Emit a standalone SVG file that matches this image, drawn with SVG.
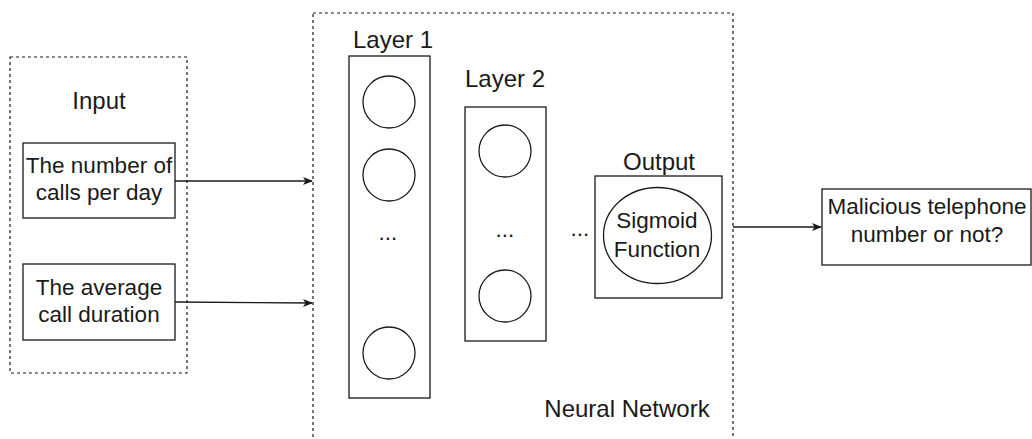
<svg xmlns="http://www.w3.org/2000/svg" width="1032" height="439" viewBox="0 0 1032 439">
<defs>
<style>
.box{fill:#fff;stroke:#1a1a1a;stroke-width:1.3}
.dash{fill:none;stroke:#1a1a1a;stroke-width:1.2;stroke-dasharray:3 3}
.node{fill:#fff;stroke:#1a1a1a;stroke-width:1.3}
.lbl{font-family:"Liberation Sans",Arial,sans-serif;font-size:24px;fill:#1a1a1a;text-anchor:middle}
.txt{font-family:"Liberation Sans",Arial,sans-serif;font-size:22.5px;fill:#1a1a1a;text-anchor:middle}
.edge{fill:none;stroke:#1a1a1a;stroke-width:1.3}
</style>
<marker id="arr" markerWidth="10" markerHeight="10" refX="9" refY="5" orient="auto" markerUnits="userSpaceOnUse">
<path d="M0,1 L10,5 L0,9 L2.5,5 Z" fill="#1a1a1a"/>
</marker>
</defs>
<rect width="1032" height="439" fill="#fff"/>
<g id="input-group">
<rect class="dash" x="10" y="57" width="177" height="316"/>
<text class="lbl" x="99" y="109">Input</text>
</g>
<g id="calls-per-day">
<rect class="box" x="23" y="143" width="152" height="75"/>
<text class="txt" x="99" y="173">The number of</text>
<text class="txt" x="99" y="200">calls per day</text>
</g>
<g id="call-duration">
<rect class="box" x="23" y="264" width="152" height="76"/>
<text class="txt" x="99" y="295">The average</text>
<text class="txt" x="99" y="322">call duration</text>
</g>
<g id="neural-network">
<rect class="dash" x="313" y="13" width="420" height="440"/>
<text class="lbl" x="627" y="417">Neural Network</text>
</g>
<g id="layer1">
<text class="lbl" x="393" y="48">Layer 1</text>
<rect class="box" x="349" y="56" width="81" height="342"/>
<circle class="node" cx="389" cy="102" r="26"/>
<circle class="node" cx="389" cy="175" r="26"/>
<text class="txt" x="388" y="240">...</text>
<circle class="node" cx="389" cy="353" r="26"/>
</g>
<g id="layer2">
<text class="lbl" x="505" y="87">Layer 2</text>
<rect class="box" x="465" y="107" width="81" height="234"/>
<circle class="node" cx="505" cy="151" r="26"/>
<text class="txt" x="505" y="237">...</text>
<circle class="node" cx="505" cy="296" r="26"/>
</g>
<g id="more-layers">
<text class="txt" x="580" y="236">...</text>
</g>
<g id="output">
<text class="lbl" x="659" y="170">Output</text>
<rect class="box" x="595" y="176" width="127" height="122"/>
<ellipse class="node" cx="657.5" cy="235.5" rx="54" ry="48"/>
<text class="txt" x="657" y="228">Sigmoid</text>
<text class="txt" x="657" y="257">Function</text>
</g>
<g id="result">
<rect class="box" x="822" y="189" width="209" height="76"/>
<text class="txt" x="927" y="214">Malicious telephone</text>
<text class="txt" x="927" y="242">number or not?</text>
</g>
<g id="connectors">
<line class="edge" x1="175" y1="181" x2="312" y2="181" marker-end="url(#arr)"/>
<line class="edge" x1="175" y1="302" x2="312" y2="303" marker-end="url(#arr)"/>
<line class="edge" x1="733" y1="227" x2="821" y2="227" marker-end="url(#arr)"/>
</g>
</svg>
